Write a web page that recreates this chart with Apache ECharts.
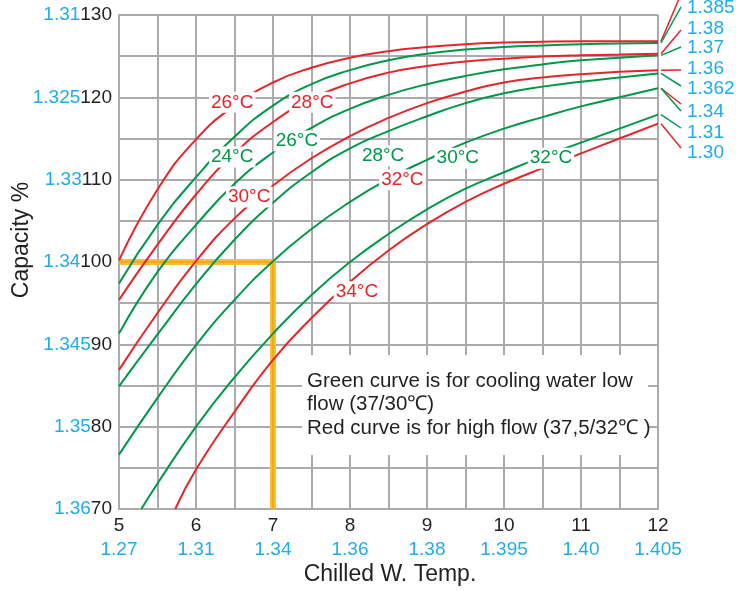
<!DOCTYPE html>
<html>
<head>
<meta charset="utf-8">
<script src="https://cdn.jsdelivr.net/npm/echarts@6/dist/echarts.min.js"></script>
<style>
  html, body { margin: 0; padding: 0; background: #fff; }
  #main { width: 736px; height: 591px; }
</style>
</head>
<body>
<div id="main"></div>
<script>
// chilled water temp steps (x)
const tempX = [5, 5.5, 6, 6.5, 7, 7.5, 8, 8.5, 9, 9.5, 10, 10.5, 11, 11.5, 12];

// capacity %, red = high flow, green = low flow
const red26 = [100.2, 108.8, 114.9, 119.0, 121.8, 123.6, 124.8, 125.6, 126.1, 126.45, 126.65, 126.75, 126.8, 126.8, 126.8];
const green24 = [97.4, 104.5, 110.3, 115.2, 119.0, 121.6, 123.3, 124.5, 125.3, 125.8, 126.1, 126.3, 126.45, 126.55, 126.6];
const red28 = [95.4, 102.1, 108.2, 113.2, 117.0, 119.8, 121.7, 123.0, 123.8, 124.35, 124.7, 124.95, 125.1, 125.2, 125.3];
const green26 = [91.3, 98.8, 104.5, 109.5, 113.3, 116.3, 118.6, 120.3, 121.6, 122.6, 123.4, 124.0, 124.5, 124.8, 125.1];
const red30 = [86.9, 93.8, 100.1, 105.3, 109.3, 112.6, 115.3, 117.5, 119.3, 120.7, 121.8, 122.4, 122.8, 123.1, 123.3];
const green28 = [84.9, 91.2, 97.3, 102.7, 107.2, 110.9, 113.8, 115.9, 117.7, 119.3, 120.5, 121.3, 121.9, 122.4, 122.9];
const green30 = [76.6, 83.5, 89.9, 95.4, 100.1, 104.0, 107.3, 110.1, 112.4, 114.5, 116.2, 117.6, 118.9, 120.0, 121.1];
// these two start at the bottom edge
const green32X = [5.29, 5.5, 6, 6.5, 7, 7.5, 8, 8.5, 9, 9.5, 10, 10.5, 11, 11.5, 12];
const green32 = [70, 73.1, 80.0, 86.0, 91.3, 96.0, 100.0, 103.4, 106.4, 108.9, 110.9, 112.8, 114.5, 116.2, 117.9];
const red34X = [5.73, 6, 6.5, 7, 7.5, 8, 8.5, 9, 9.5, 10, 10.5, 11, 11.5, 12];
const red34 = [70, 74.8, 81.8, 88.1, 93.2, 97.6, 101.4, 104.6, 107.3, 109.5, 111.4, 113.2, 115.0, 116.8];

// axis tick labels
const xTicks = [5, 6, 7, 8, 9, 10, 11, 12];
const xBlue = ['1.27', '1.31', '1.34', '1.36', '1.38', '1.395', '1.40', '1.405'];
const yTicks = [130, 120, 110, 100, 90, 80, 70];
const yBlue = ['1.31', '1.325', '1.33', '1.34', '1.345', '1.35', '1.36'];
const rightTags = ['1.385', '1.38', '1.37', '1.36', '1.362', '1.34', '1.31', '1.30'];

// design point guide (7 deg -> 100 %)
const guideX = [5, 7, 7];
const guideY = [100, 100, 70];

const RED = '#e6242b';
const GREEN = '#00974a';
const BLUE = '#1eaee6';
const INK = '#231f20';
const GRID = '#ababab';
const FONT = '"Liberation Sans", Arial, sans-serif';

const zip = (xs, ys) => xs.map((x, i) => [x, ys[i]]);

// curve name labels, placed where they sit in the picture
const curveTags = [
  { text: '26°C', color: RED, at: [6.47, 119.4] },
  { text: '28°C', color: RED, at: [7.51, 119.4] },
  { text: '24°C', color: GREEN, at: [6.47, 112.75] },
  { text: '26°C', color: GREEN, at: [7.31, 114.7] },
  { text: '30°C', color: RED, at: [6.69, 107.9] },
  { text: '28°C', color: GREEN, at: [8.43, 112.9] },
  { text: '30°C', color: GREEN, at: [9.4, 112.6] },
  { text: '32°C', color: RED, at: [8.68, 110.0] },
  { text: '32°C', color: GREEN, at: [10.61, 112.6] },
  { text: '34°C', color: RED, at: [8.09, 96.4] }
];

function curve(name, color, data) {
  return {
    name: name,
    type: 'line',
    data: data,
    smooth: 0.5,
    showSymbol: false,
    z: 3,
    lineStyle: { color: color, width: 2 },
    silent: true
  };
}

const chart = echarts.init(document.getElementById('main'));

const option = {
  animation: false,
  backgroundColor: '#fff',
  grid: { left: 119, right: 78, top: 15, bottom: 82, containLabel: false, outerBoundsMode: 'none' },
  xAxis: {
    type: 'value',
    min: 5,
    max: 12,
    interval: 0.5,
    axisLine: { show: true, lineStyle: { color: GRID, width: 2 } },
    axisTick: { show: false },
    splitLine: { show: true, lineStyle: { color: GRID, width: 2 } },
    axisLabel: {
      margin: 5,
      lineHeight: 24,
      formatter: function (v) {
        const i = xTicks.indexOf(v);
        if (i < 0) return '';
        return '{k|' + v + '}\n{b|' + xBlue[i] + '}';
      },
      rich: {
        k: { color: INK, fontSize: 19, fontFamily: FONT, lineHeight: 24 },
        b: { color: BLUE, fontSize: 19, fontFamily: FONT, lineHeight: 24 }
      }
    }
  },
  yAxis: {
    type: 'value',
    min: 70,
    max: 130,
    interval: 5,
    axisLine: { show: true, lineStyle: { color: GRID, width: 2 } },
    axisTick: { show: false },
    splitLine: { show: true, lineStyle: { color: GRID, width: 2 } },
    axisLabel: {
      margin: 7,
      formatter: function (v) {
        const i = yTicks.indexOf(v);
        if (i < 0) return '';
        return '{b|' + yBlue[i] + '}{k|' + v + '}';
      },
      rich: {
        k: { color: INK, fontSize: 19, fontFamily: FONT },
        b: { color: BLUE, fontSize: 19, fontFamily: FONT }
      }
    }
  },
  series: [
    {
      type: 'line',
      data: zip(guideX, guideY),
      showSymbol: false,
      z: 1,
      lineStyle: { color: '#fbbd35', width: 6 },
      silent: true
    },
    {
      type: 'line',
      data: zip(guideX, guideY),
      showSymbol: false,
      z: 1,
      lineStyle: { color: '#f2a40e', width: 1.5 },
      silent: true
    },
    curve('g24', GREEN, zip(tempX, green24)),
    curve('r26', RED, zip(tempX, red26)),
    curve('g26', GREEN, zip(tempX, green26)),
    curve('r28', RED, zip(tempX, red28)),
    curve('g28', GREEN, zip(tempX, green28)),
    curve('r30', RED, zip(tempX, red30)),
    curve('g30', GREEN, zip(tempX, green30)),
    curve('g32', GREEN, zip(green32X, green32)),
    curve('r34', RED, zip(red34X, red34)),
    {
      // temperature tags sitting on the curves
      type: 'scatter',
      z: 6,
      symbolSize: 2,
      itemStyle: { color: 'rgba(255,255,255,0)', opacity: 1 },
      silent: true,
      labelLayout: { hideOverlap: false },
      data: curveTags.map(t => ({
        value: t.at,
        label: {
          show: true,
          position: 'inside',
          formatter: t.text,
          color: t.color,
          fontSize: 19,
          fontFamily: FONT,
          backgroundColor: '#fff',
          padding: [1, 2]
        }
      }))
    }
  ]
};

chart.setOption(option);

// leader lines from curve ends to the blue tags on the right
const px = (x, y) => chart.convertToPixel({ gridIndex: 0 }, [x, y]);
const last = arr => arr[arr.length - 1];
const leaders = [
  { y: last(red26), color: RED, to: -6 },
  { y: last(green24), color: GREEN, to: 7 },
  { y: last(red28), color: RED, to: 30 },
  { y: last(green26), color: GREEN, to: 47 },
  { y: last(red30), color: RED, to: 70 },
  { y: last(green28), color: GREEN, to: 86 },
  { y: last(green30), color: RED, to: 104 },
  { y: last(green30), color: GREEN, to: 111 },
  { y: last(green32), color: GREEN, to: 128 },
  { y: last(red34), color: RED, to: 148 }
];
const tagY = [8, 29, 48, 69, 89, 112, 133, 153];

const graphics = [];
leaders.forEach(l => {
  const p = px(12, l.y);
  graphics.push({
    type: 'line',
    z: 10,
    shape: { x1: p[0] + 3, y1: p[1], x2: p[0] + 23, y2: l.to },
    style: { stroke: l.color, lineWidth: 1.5 }
  });
});
rightTags.forEach((t, i) => {
  graphics.push({
    type: 'text',
    z: 10,
    x: 687,
    y: tagY[i],
    style: { text: t, fill: BLUE, font: '19px ' + FONT, textVerticalAlign: 'middle' }
  });
});

// note box over the grid
graphics.push({
  type: 'rect',
  z: 10,
  shape: { x: 302, y: 355, width: 346, height: 100 },
  style: { fill: '#fff' }
});
graphics.push({
  type: 'text',
  z: 11,
  x: 307,
  y: 369,
  style: {
    text: 'Green curve is for cooling water low\nflow (37/30\u2103)\nRed curve is for high flow (37,5/32\u2103 )',
    fill: INK,
    font: '20.5px ' + FONT,
    lineHeight: 23.7
  }
});
// axis titles
graphics.push({
  type: 'text',
  z: 10,
  x: 22,
  y: 240,
  rotation: Math.PI / 2,
  style: {
    text: 'Capacity %',
    fill: INK,
    font: '23px ' + FONT,
    textAlign: 'center',
    textVerticalAlign: 'middle'
  }
});
graphics.push({
  type: 'text',
  z: 10,
  x: 390,
  y: 575,
  style: {
    text: 'Chilled W. Temp.',
    fill: INK,
    font: '23px ' + FONT,
    textAlign: 'center',
    textVerticalAlign: 'middle'
  }
});

chart.setOption({ graphic: graphics });
</script>
</body>
</html>
